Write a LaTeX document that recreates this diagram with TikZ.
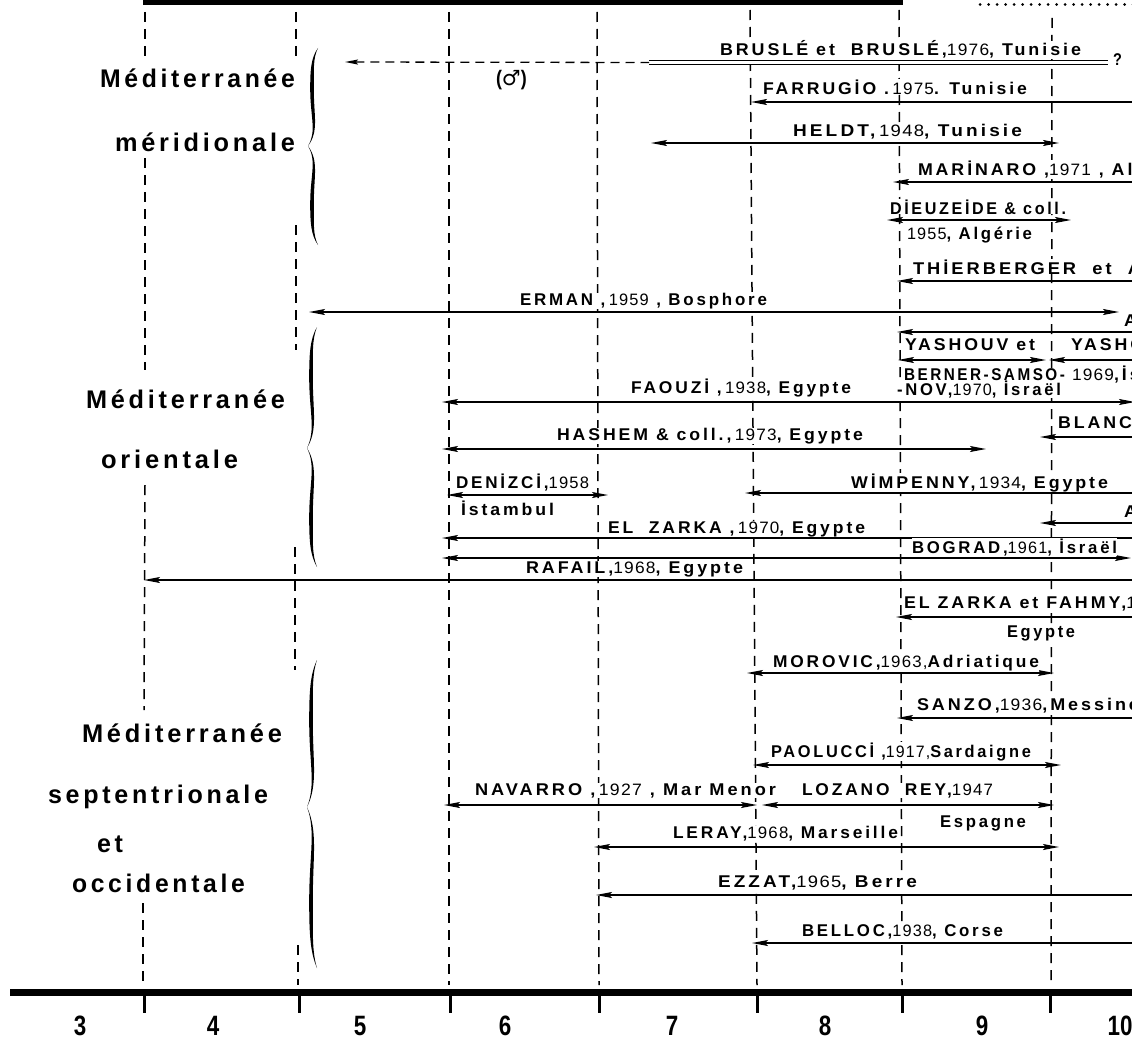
\documentclass[tikz,border=0pt]{standalone}
\usepackage{fontspec}
\usepackage{graphicx}
\setmainfont{Liberation Sans}
\newfontfamily\nmfont[FakeStretch=0.85,LetterSpace=14]{Liberation Sans Bold}
\newfontfamily\yrfont[FakeStretch=0.85,LetterSpace=6]{Liberation Sans}
\newfontfamily\rgfont[LetterSpace=15]{Liberation Sans Bold}
\newfontfamily\numfont[FakeStretch=0.8]{Liberation Sans Bold}
\newfontfamily\symfont{DejaVu Sans}
\usetikzlibrary{arrows.meta}
\newcommand\yr[1]{{\yrfont\fontsize{16.5}{18}\selectfont #1}}
\newcommand\fitw[2]{\setbox0=\hbox{#2}\pgfmathsetmacro\fsc{#1/\the\wd0}\scalebox{\fsc}[1]{\box0}}
\newcommand\wide[1]{\scalebox{1.23}[1]{#1}}
\newcommand\harr[5]{%
  \coordinate (#1a) at (#2,#4);
  \coordinate (#1b) at (#3,#4);
  \draw[arr,#5] (#1a) -- (#1b);}
\newcommand\vdl[5]{%
  \coordinate (#1a) at (#2,#4);
  \coordinate (#1b) at (#3,#5);
  \draw[vdash] (#1a) -- (#1b);}
\newcommand\tbrace[4]{%
  \pgfmathsetmacro\ba{#3-#2}%
  \pgfmathsetmacro\bb{#4-#3}%
  \fill (#1+6,#2) .. controls (#1-1,#2+0.1*\ba) and (#1-1.8,#2+0.22*\ba) .. (#1-1.8,#2+0.42*\ba)
    .. controls (#1-1.8,#2+0.7*\ba) and (#1+5,#2+0.85*\ba) .. (#1-4,#3)
    .. controls (#1+7,#2+0.85*\ba) and (#1+1.8,#2+0.7*\ba) .. (#1+1.8,#2+0.42*\ba)
    .. controls (#1+1.8,#2+0.22*\ba) and (#1+1,#2+0.1*\ba) .. (#1+6,#2) -- cycle;
  \fill (#1+6,#4) .. controls (#1-1,#4-0.1*\bb) and (#1-1.8,#4-0.22*\bb) .. (#1-1.8,#4-0.42*\bb)
    .. controls (#1-1.8,#4-0.7*\bb) and (#1+5,#4-0.85*\bb) .. (#1-4,#3)
    .. controls (#1+7,#4-0.85*\bb) and (#1+1.8,#4-0.7*\bb) .. (#1+1.8,#4-0.42*\bb)
    .. controls (#1+1.8,#4-0.22*\bb) and (#1+1,#4-0.1*\bb) .. (#1+6,#4) -- cycle;}
\tikzset{
  lbl/.style={anchor=base west, inner sep=0pt, outer sep=0pt, fill=white,
    font=\nmfont\fontsize{17}{19}\selectfont},
  rgn/.style={anchor=base west, inner sep=0pt, outer sep=0pt,
    font=\rgfont\fontsize{25.5}{28}\selectfont},
  num/.style={anchor=base, inner sep=0pt, outer sep=0pt,
    font=\numfont\fontsize{28}{30}\selectfont},
  vdash/.style={line width=1.5pt, dash pattern=on 10pt off 7pt},
  arr/.style={line width=1.4pt, >={Stealth[length=16pt,width=6pt,inset=3pt]}},
}
\begin{document}
\begin{tikzpicture}[x=1pt,y=-1pt]
\useasboundingbox (0,0) rectangle (1132,1041);
\clip (0,0) rectangle (1132,1041);
\fill[white] (0,0) rectangle (1132,1041);

% top rules
\coordinate (topA) at (143,2.5); \coordinate (topB) at (903,2.5);
\draw[line width=5pt] (topA) -- (topB);
\coordinate (dotA) at (980,4.5); \coordinate (dotB) at (1140,4.5);
\draw[line width=3pt, line cap=round, dash pattern=on 0pt off 8.5pt] (dotA) -- (dotB);

% bottom axis
\coordinate (axA) at (10,992); \coordinate (axB) at (1140,992);
\draw[line width=7pt] (axA) -- (axB);
\foreach \t/\x in {t1/144,t2/299,t3/450,t4/599,t5/757,t6/902,t7/1050}{
  \coordinate (\t a) at (\x,992); \coordinate (\t b) at (\x,1013);
  \draw[line width=3pt] (\t a) -- (\t b);}
\node[num] (n3) at (80,1035) {3};
\node[num] (n4) at (213,1035) {4};
\node[num] (n5) at (360,1035) {5};
\node[num] (n6) at (505,1035) {6};
\node[num] (n7) at (672,1035) {7};
\node[num] (n8) at (825,1035) {8};
\node[num] (n9) at (982,1035) {9};
\node[num] (n10) at (1120,1035) {10};

% vertical dashed lines
\vdl{vA1}{145}{145}{12}{62}
\vdl{vA2}{145}{145}{158}{370}
\vdl{vA3}{145}{144}{485}{710}
\vdl{vA4}{143}{143}{903}{985}
\vdl{vB1}{296}{296}{12}{60}
\vdl{vB2}{296}{296}{225}{350}
\vdl{vB3}{295}{295}{547}{670}
\vdl{vB4}{298}{298}{945}{985}
\vdl{vC}{449}{449}{12}{985}
\vdl{vD}{597}{599}{12}{985}
\vdl{vE}{750}{757}{10}{985}
\vdl{vF}{899}{902}{10}{985}
\vdl{vG}{1052}{1051}{18}{985}

% braces
\tbrace{312}{48}{146}{245}
\tbrace{311}{327}{448}{567}
\tbrace{311}{660}{807}{968}

% region labels
\node[rgn] (r1a) at (100,87) {\fitw{195}{Méditerranée}};
\node[rgn] (r1b) at (115,151) {\fitw{180}{méridionale}};
\node[rgn] (r2a) at (86,408) {\fitw{199}{Méditerranée}};
\node[rgn] (r2b) at (101,468) {\fitw{137}{orientale}};
\node[rgn] (r3a) at (82,742) {\fitw{200}{Méditerranée}};
\node[rgn] (r3b) at (48,803) {\fitw{220}{septentrionale}};
\node[rgn] (r3c) at (97,852) {\fitw{26}{et}};
\node[rgn] (r3d) at (72,892) {\fitw{173}{occidentale}};

% Bruslé et Bruslé
\coordinate (bruA) at (649,62.5); \coordinate (bruB) at (1108,62.5);
\draw[line width=1.4pt, double, double distance=2.2pt] (bruA) -- (bruB);
\coordinate (bruL) at (345,62);
\draw[line width=1.3pt, dash pattern=on 9pt off 6pt,
  {Stealth[length=13pt,width=5pt,inset=2pt]}-] (bruL) -- (bruA);
\node[lbl] (tQ) at (1113,66) {?};
\node[lbl, font=\nmfont\fontsize{21}{23}\selectfont] (tMale) at (496,85) {({\symfont ♂})};

% arrows
\harr{aFar}{751}{1140}{102}{<-}
\harr{aHel}{651}{1059}{143}{<->}
\harr{aMar}{893}{1140}{182}{<-}
\harr{aDie}{887}{1071}{220}{<->}
\harr{aThi}{897}{1140}{281}{<-}
\harr{aErm}{309}{1119}{312}{<->}
\harr{aAa}{897}{1140}{332}{<-}
\harr{aYa}{898}{1046}{360}{<->}
\harr{aYb}{1049}{1140}{360}{<-}
\harr{aFao}{442}{1135}{402}{<->}
\harr{aBla}{1040}{1140}{437}{<-}
\harr{aHas}{442}{986}{449}{<->}
\harr{aDen}{447}{608}{495}{<->}
\harr{aWim}{745}{1140}{493}{<-}
\harr{aAb}{1040}{1140}{523}{<-}
\harr{aZar}{442}{1140}{538}{<-}
\harr{aBog}{442}{1131}{558}{<->}
\harr{aRaf}{144}{1140}{580}{<-}
\harr{aZaF}{896}{1140}{617}{<-}
\harr{aMor}{747}{1054}{673}{<->}
\harr{aSan}{897}{1140}{718}{<-}
\harr{aPao}{753}{1061}{765}{<->}
\harr{aNav}{444}{757}{805}{<->}
\harr{aLoz}{762}{1054}{805}{<->}
\harr{aLer}{594}{1059}{847}{<->}
\harr{aEzz}{596}{1140}{895}{<-}
\harr{aBel}{752}{1140}{943}{<-}

% labels
\node[lbl] (tBru) at (720,56) {\fitw{361}{BRUSLÉ et \ BRUSLÉ,\yr{1976}, Tunisie}};
\node[lbl] (tFar) at (763,94) {\fitw{264}{FARRUGİO .\,\yr{1975}. Tunisie}};
\node[lbl] (tHel) at (793,136) {\fitw{229}{HELDT,\,\yr{1948}, Tunisie}};
\node[lbl] (tMar) at (918,175) {\wide{MARİNARO ,\yr{1971} , Algérie}};
\node[lbl] (tDie) at (890,214) {\fitw{176}{DİEUZEİDE \& coll.}};
\node[lbl] (tDie2) at (907,239) {\fitw{125}{\yr{1955}, Algérie}};
\node[lbl] (tThi) at (913,274) {\fitw{228}{THİERBERGER \ et \ A}};
\node[lbl] (tErm) at (520,305) {\fitw{247}{ERMAN ,\,\yr{1959} , Bosphore}};
\node[lbl] (tA1) at (1124,326) {\wide{A}};
\node[lbl] (tYa1) at (905,350) {\fitw{130}{YASHOUV et}};
\node[lbl] (tYa2) at (1071,350) {\wide{YASHOUV}};
\node[lbl] (tNov) at (897,395) {\fitw{164}{-NOV,\yr{1970}, İsraël}};
\node[lbl] (tBer) at (904,380) {\fitw{161}{BERNER-SAMSO-}};
\node[lbl] (tYa3) at (1072,380) {\wide{\yr{1969},İsraël}};
\node[lbl] (tFao) at (631,393) {\fitw{220}{FAOUZİ ,\,\yr{1938}, Egypte}};
\node[lbl] (tBla) at (1058,428) {\wide{BLANC}};
\node[lbl] (tHas) at (557,440) {\fitw{306}{HASHEM \& coll.,\,\yr{1973}, Egypte}};
\node[lbl] (tDen) at (456,488) {\fitw{133}{DENİZCİ,\yr{1958}}};
\node[lbl] (tWim) at (851,488) {\fitw{257}{WİMPENNY,\,\yr{1934}, Egypte}};
\node[lbl] (tIst) at (461,515) {\fitw{93}{İstambul}};
\node[lbl] (tA2) at (1124,517) {\wide{A}};
\node[lbl] (tZar) at (608,533) {\fitw{257}{EL \ ZARKA ,\,\yr{1970}, Egypte}};
\node[lbl] (tBog) at (912,553) {\fitw{205}{BOGRAD,\yr{1961}, İsraël}};
\node[lbl] (tRaf) at (526,573) {\fitw{217}{RAFAIL,\yr{1968}, Egypte}};
\node[lbl] (tZaF) at (904,608) {\fitw{232}{EL ZARKA et FAHMY,\yr{1}}};
\node[lbl] (tEgy) at (1007,637) {\fitw{68}{Egypte}};
\node[lbl] (tMor) at (773,667) {\fitw{266}{MOROVIC,\yr{1963,}Adriatique}};
\node[lbl] (tSan) at (917,710) {\fitw{222}{SANZO,\yr{1936},Messine}};
\node[lbl] (tPao) at (771,757) {\fitw{260}{PAOLUCCİ ,\yr{1917,}Sardaigne}};
\node[lbl] (tNav) at (475,795) {\fitw{301}{NAVARRO ,\,\yr{1927} , Mar Menor}};
\node[lbl] (tLoz) at (802,795) {\fitw{191}{LOZANO \ REY,\yr{1947}}};
\node[lbl] (tEsp) at (940,827) {\fitw{86}{Espagne}};
\node[lbl] (tLer) at (673,838) {\fitw{225}{LERAY,\yr{1968}, Marseille}};
\node[lbl] (tEzz) at (718,887) {\fitw{199}{EZZAT,\yr{1965}, Berre}};
\node[lbl] (tBel) at (802,936) {\fitw{201}{BELLOC,\yr{1938}, Corse}};
\end{tikzpicture}
\end{document}
